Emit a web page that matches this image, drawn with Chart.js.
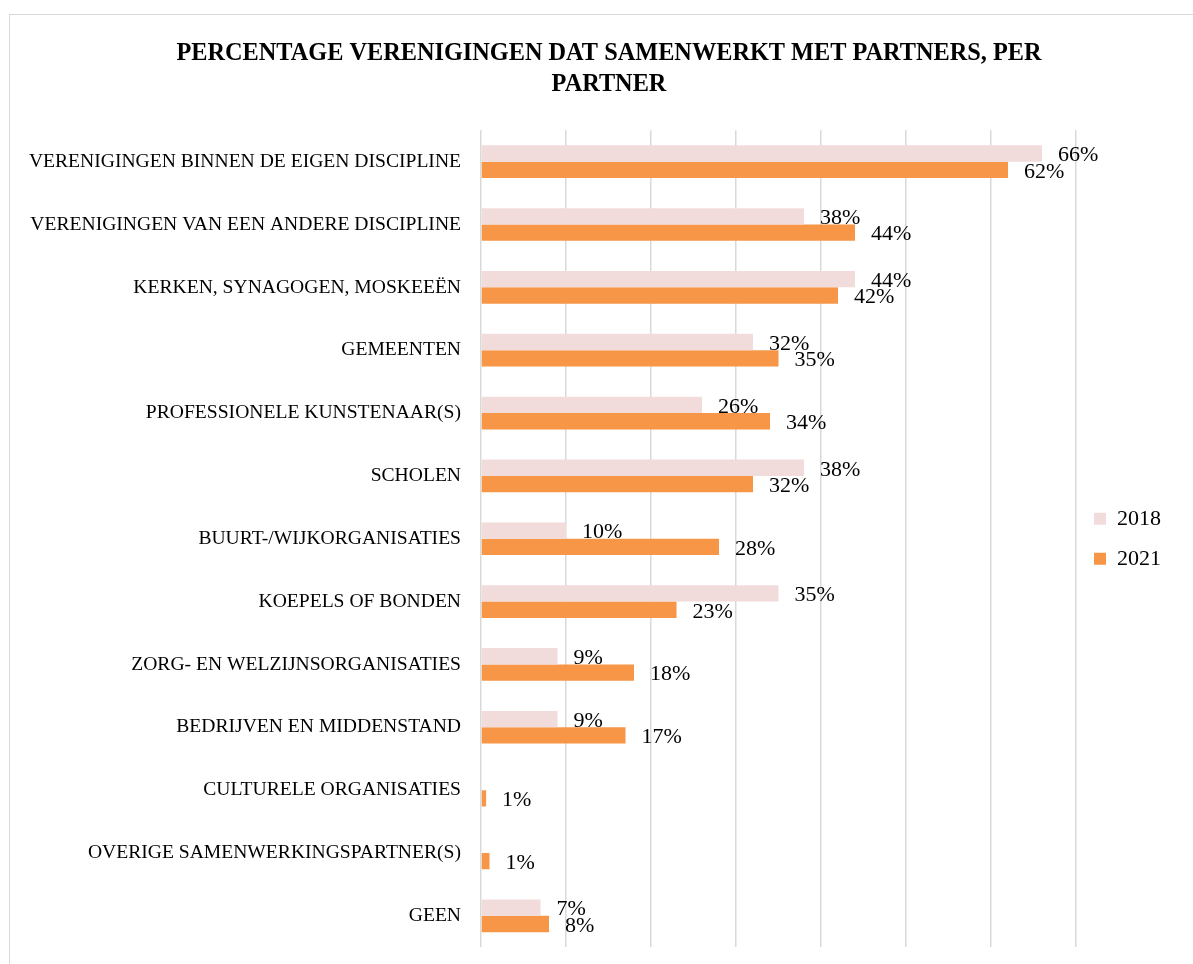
<!DOCTYPE html>
<html>
<head>
<meta charset="utf-8">
<script src="https://cdn.jsdelivr.net/npm/chart.js@4.4.1/dist/chart.umd.min.js"></script>
<style>
  html, body { margin: 0; padding: 0; background: #fff; overflow: hidden; }
  #kader { position: absolute; left: 9px; top: 14px; border: 1px solid #d9d9d9; }
  canvas { display: block; }
</style>
</head>
<body>
<div id="kader"><canvas id="grafiek" width="1198" height="956"></canvas></div>
<script>
const partners = [
  'VERENIGINGEN BINNEN DE EIGEN DISCIPLINE',
  'VERENIGINGEN VAN EEN ANDERE DISCIPLINE',
  'KERKEN, SYNAGOGEN, MOSKEEËN',
  'GEMEENTEN',
  'PROFESSIONELE KUNSTENAAR(S)',
  'SCHOLEN',
  'BUURT-/WIJKORGANISATIES',
  'KOEPELS OF BONDEN',
  'ZORG- EN WELZIJNSORGANISATIES',
  'BEDRIJVEN EN MIDDENSTAND',
  'CULTURELE ORGANISATIES',
  'OVERIGE SAMENWERKINGSPARTNER(S)',
  'GEEN'
];
const jaren = ['2018', '2021'];
const waarden2018 = [66, 38, 44, 32, 26, 38, 10, 35, 9, 9, null, null, 7];
const waarden2021 = [62, 44, 42, 35, 34, 32, 28, 23, 18, 17, 0.6, 1, 8];
const asMin = 0, asMax = 70, asStap = 10;

const serif = '"Liberation Serif", "Times New Roman", serif';

// percentages achter de balken
const balkLabels = {
  id: 'balkLabels',
  afterDatasetsDraw(chart) {
    const ctx = chart.ctx;
    ctx.save();
    ctx.font = '22px ' + serif;
    ctx.fillStyle = '#000';
    ctx.textAlign = 'left';
    ctx.textBaseline = 'middle';
    chart.data.datasets.forEach((ds, i) => {
      chart.getDatasetMeta(i).data.forEach((bar, j) => {
        const v = ds.data[j];
        if (v == null) return;
        ctx.fillText(Math.round(v) + '%', bar.x + 16, bar.y + 2);
      });
    });
    ctx.restore();
  }
};

// titel centreren over het hele kader, niet alleen links van de legenda-marge
const titelMidden = {
  id: 'titelMidden',
  afterLayout(chart) {
    if (chart.titleBlock) chart.titleBlock.right = chart.width;
  }
};

new Chart(document.getElementById('grafiek'), {
  type: 'bar',
  data: {
    labels: partners,
    datasets: [
      { label: jaren[0], data: waarden2018, backgroundColor: '#f2dcdb' },
      { label: jaren[1], data: waarden2021, backgroundColor: '#f79646' }
    ]
  },
  options: {
    indexAxis: 'y',
    responsive: false,
    animation: false,
    categoryPercentage: 0.52,
    barPercentage: 1,
    layout: { padding: { left: 0, right: 37, top: 0, bottom: 2 } },
    scales: {
      x: {
        min: asMin,
        max: asMax,
        ticks: { display: false, stepSize: asStap },
        grid: { color: '#d9d9d9', lineWidth: 1.5, drawTicks: false },
        border: { display: false }
      },
      y: {
        afterFit(scale) { scale.width = 471; },
        grid: { display: false },
        border: { display: false },
        ticks: { color: '#000', padding: 12, font: { family: serif, size: 19.6 } }
      }
    },
    plugins: {
      title: {
        display: true,
        text: ['PERCENTAGE VERENIGINGEN DAT SAMENWERKT MET PARTNERS, PER', 'PARTNER'],
        color: '#000',
        font: { family: serif, size: 24.3, weight: 'bold', lineHeight: 1.25 },
        padding: { top: 24, bottom: 30.5 }
      },
      legend: {
        position: 'right',
        fullSize: false,
        labels: {
          color: '#000',
          boxWidth: 12,
          boxHeight: 12,
          padding: 18,
          font: { family: serif, size: 22 }
        }
      },
      tooltip: { enabled: false }
    }
  },
  plugins: [balkLabels, titelMidden]
});
</script>
</body>
</html>
